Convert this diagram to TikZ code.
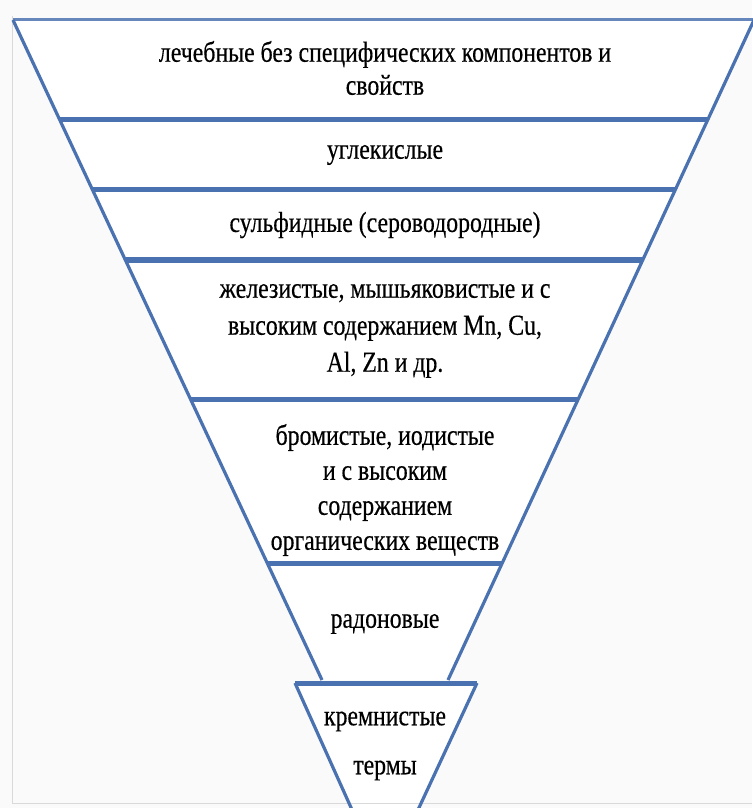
\documentclass[tikz,border=0pt]{standalone}
\usepackage{fontspec}
\setmainfont{Liberation Serif}[FakeStretch=0.82, FakeBold=0.4]
\usetikzlibrary{calc, positioning}
\definecolor{bandblue}{HTML}{4A72B0}

\begin{document}
\begin{tikzpicture}[x=1pt, y=-1pt, font=\fontsize{29}{35}\selectfont,
  edge/.style={draw=bandblue, line width=3.2pt},
  band/.style={draw=bandblue, line width=5pt},
  label/.style={align=center, inner sep=0pt}]

\useasboundingbox (0,0) rectangle (752,808);
\fill[gray!4] (0,0) rectangle (752,808);

% funnel corners
\coordinate (tl) at (13,20);
\coordinate (tr) at (754,20);
\coordinate (bl) at (322,680);
\coordinate (br) at (448,680);
\coordinate (kl) at (295,683);
\coordinate (kr) at (477,683);
\coordinate (kbl) at (353,812);
\coordinate (kbr) at (417,812);

\fill[white] (tl) -- (tr) -- (br) -- (bl) -- cycle;
\fill[white] (kl) -- (kr) -- (kbr) -- (kbl) -- cycle;
\draw[gray!30, line width=1pt] (12,16) -- (12,803) -- (752,803);

\draw[edge, line width=3pt, bandblue!85] (tl) -- (tr);
\draw[edge] (tl) -- (bl);
\draw[edge] (tr) -- (br);
\foreach \yy in {120,190,260,400,563}
  \draw[band] ($(tl)!{(\yy-20)/660}!(bl)$) -- ($(tr)!{(\yy-20)/660}!(br)$);

\draw[band] (kl) -- (kr);
\draw[edge] (kl) -- (kbl);
\draw[edge] (kr) -- (kbr);

\node[label, font=\fontsize{29}{33}\selectfont] (lech) at (385,68) {лечебные без специфических компонентов и\\свойств};
\node[label] (ugle) at (385,155) {углекислые};
\node[label] (sulf) at (385,225) {сульфидные (сероводородные)};
\node[label, font=\fontsize{29}{37}\selectfont] (zhel) at (385,331) {железистые, мышьяковистые и с\\высоким содержанием Mn, Cu,\\Al, Zn и др.};
\node[label] (brom) at (385,490) {бромистые, иодистые\\и с высоким\\содержанием\\органических веществ};
\node[label] (rado) at (385,624) {радоновые};
\node[label, font=\fontsize{29}{49}\selectfont] (krem) at (385,746) {кремнистые\\термы};

\end{tikzpicture}
\end{document}
